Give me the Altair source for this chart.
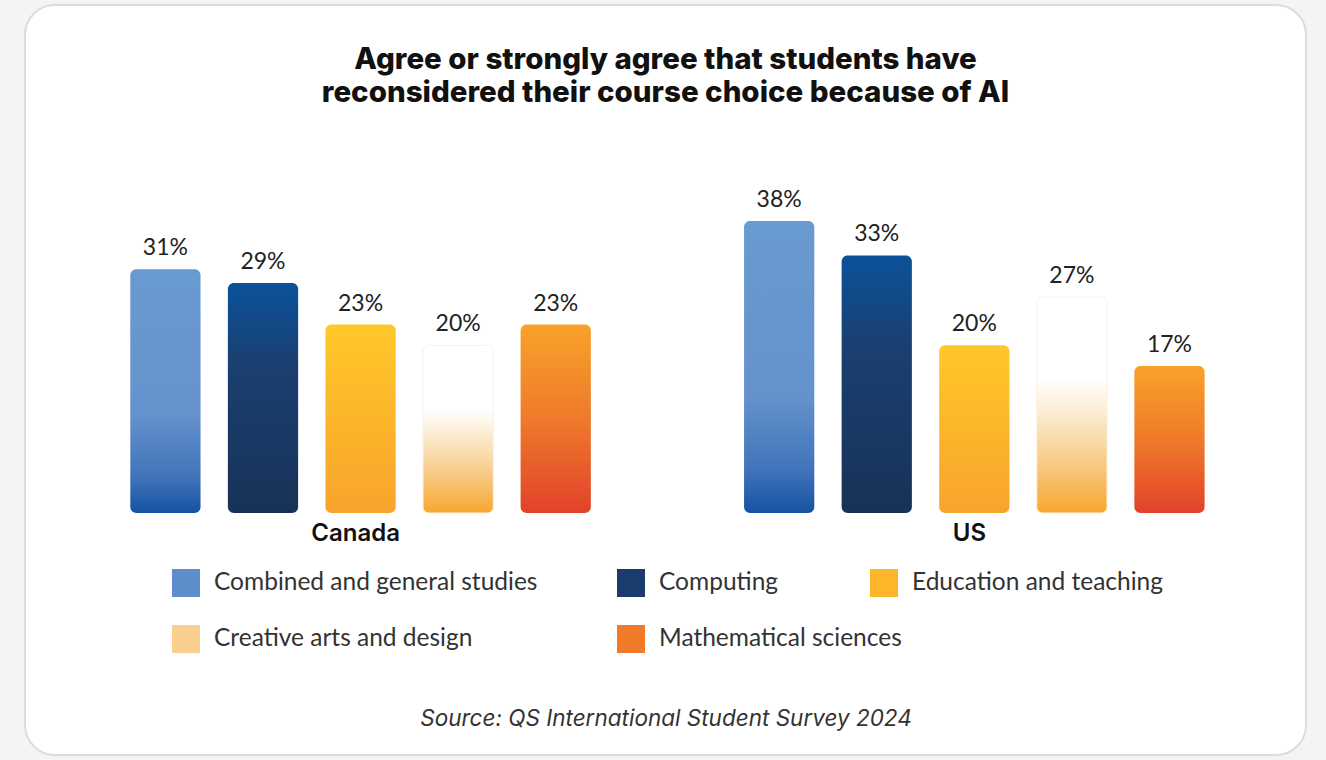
import altair as alt
import pandas as pd

# ---------------- data ----------------
CATEGORIES = [
    "Combined and general studies",
    "Computing",
    "Education and teaching",
    "Creative arts and design",
    "Mathematical sciences",
]
COUNTRIES = ["Canada", "US"]
CANADA_VALUES = [31, 29, 23, 20, 23]
US_VALUES = [38, 33, 20, 27, 17]

TITLE_LINES = [
    "Agree or strongly agree that students have",
    "reconsidered their course choice because of AI",
]
SOURCE = "Source: QS International Student Survey 2024"

# ---------------- styles ----------------
LEGEND_COLORS = ["#5d8dca", "#1a3d6d", "#fdb62a", "#f8cf8c", "#ef7a2a"]
GRADIENT_STOPS = [
    [(0.0, "#6a9ad2"), (0.6, "#6592cc"), (0.85, "#4274ba"), (1.0, "#1553a1")],
    [(0.0, "#0a529a"), (0.35, "#1b3f70"), (1.0, "#173257")],
    [(0.0, "#ffc829"), (1.0, "#f8a42c")],
    [(0.0, "#ffffff"), (0.38, "#ffffff"), (0.55, "#fbeacc"), (0.8, "#f7c67a"), (1.0, "#f9a62d")],
    [(0.0, "#f9a22a"), (0.5, "#ee7a2a"), (1.0, "#e2422a")],
]
BODY_FONT = "Lato"
HEAD_FONT = "Inter"
TEXT_DARK = "#222222"

# ---------------- layout ----------------
GROUP_STEP = 6.29      # distance between the two country groups, in bar slots
GROUP_LABEL_POS = 1.95 # group label position within a group, in bar slots
BAR_HALF = 0.36        # half bar width, in bar slots
BASE = -4.24           # baseline of the bars on the value scale
X_DOMAIN = [-1.439, 11.689]
Y_DOMAIN = [-39.24, 69.22]

rows = []
for gi, (country, vals) in enumerate(zip(COUNTRIES, [CANADA_VALUES, US_VALUES])):
    for ci, (cat, v) in enumerate(zip(CATEGORIES, vals)):
        rows.append(dict(country=country, category=cat, value=v, gi=gi, ci=ci))
df = pd.DataFrame(rows)
groups = pd.DataFrame({"country": COUNTRIES, "gi": list(range(len(COUNTRIES)))})

xscale = alt.Scale(domain=X_DOMAIN, nice=False, zero=False)
yscale = alt.Scale(domain=Y_DOMAIN, nice=False, zero=False)
x_axis = alt.Axis(
    title=SOURCE, labels=False, ticks=False, domain=False, grid=False,
    offset=-48, titlePadding=0, titleFont=HEAD_FONT, titleFontSize=22.5,
    titleFontStyle="italic", titleFontWeight="normal", titleColor="#333333",
)

base = alt.Chart(df).transform_calculate(
    pos=f"datum.gi * {GROUP_STEP} + datum.ci",
    base=f"{BASE}",
    label="datum.value + '%'",
).transform_calculate(
    xl=f"datum.pos - {BAR_HALF}",
    xr=f"datum.pos + {BAR_HALF}",
)

X_BAR = alt.X("xl:Q", scale=xscale, axis=x_axis)
X2_BAR = alt.X2("xr:Q")
Y_BASE = alt.Y("base:Q", scale=yscale, axis=None)

legend_common = dict(
    title=None, orient="none", direction="horizontal", gridAlign="each",
    symbolType="square", symbolSize=784, symbolStrokeWidth=0,
    labelFont=BODY_FONT, labelFontSize=24.5, labelColor="#333333",
    labelOffset=14, labelLimit=600, columnPadding=79, rowPadding=28,
    padding=0,
)

# main legend: two columns (first, second and fourth, fifth categories)
legend_main = base.mark_bar().encode(
    x=X_BAR, x2=X2_BAR, y=Y_BASE, y2="base:Q",
    color=alt.Color(
        "category:N",
        scale=alt.Scale(domain=CATEGORIES, range=LEGEND_COLORS),
        legend=alt.Legend(
            values=[CATEGORIES[0], CATEGORIES[1], CATEGORIES[3], CATEGORIES[4]],
            legendX=147, legendY=564, columns=2, **legend_common,
        ),
    ),
)

# third column of the legend
legend_third = base.transform_filter(alt.datum.category == CATEGORIES[2]).mark_bar().encode(
    x=X_BAR, x2=X2_BAR, y=Y_BASE, y2="base:Q",
    fill=alt.Fill(
        "category:N",
        scale=alt.Scale(domain=[CATEGORIES[2]], range=[LEGEND_COLORS[2]]),
        legend=alt.Legend(legendX=845, legendY=564, columns=1, **legend_common),
    ),
)

bar_layers = []
for cat, stops in zip(CATEGORIES, GRADIENT_STOPS):
    grad = alt.LinearGradient(
        gradient="linear",
        stops=[alt.GradientStop(color=c, offset=o) for o, c in stops],
        x1=0, x2=0, y1=0, y2=1,
    )
    extra = {}
    if stops[0][1] == "#ffffff":
        extra = dict(stroke="#fbf1e0", strokeWidth=1)
    bar_layers.append(
        base.transform_filter(alt.datum.category == cat)
        .mark_bar(color=grad, cornerRadius=6, **extra)
        .encode(
            x=X_BAR, x2=X2_BAR,
            y=alt.Y("value:Q", scale=yscale, axis=None),
            y2="base:Q",
        )
    )

value_labels = base.mark_text(
    font=BODY_FONT, fontSize=23, color=TEXT_DARK, baseline="alphabetic", dy=-14
).encode(
    x=alt.X("pos:Q", scale=xscale, axis=x_axis),
    y=alt.Y("value:Q", scale=yscale, axis=None),
    text="label:N",
)

group_labels = alt.Chart(groups).transform_calculate(
    pos=f"datum.gi * {GROUP_STEP} + {GROUP_LABEL_POS}",
    base=f"{BASE}",
).mark_text(
    font=HEAD_FONT, fontSize=24, fontWeight=600, color="#111111",
    baseline="middle", dy=21,
).encode(
    x=alt.X("pos:Q", scale=xscale, axis=x_axis),
    y=Y_BASE,
    text="country:N",
)

chart = alt.layer(
    legend_main, legend_third, *bar_layers, value_labels, group_labels
).properties(
    width=1281,
    height=750,
    padding={"left": 25, "top": 5, "right": 20, "bottom": 5},
    autosize=alt.AutoSizeParams(type="none"),
    background="#f4f4f4",
    title=alt.Title(
        TITLE_LINES, font=HEAD_FONT, fontSize=29.5, fontWeight=800, color="#111111",
        anchor="middle", offset=-103, lineHeight=33,
    ),
).configure_view(
    fill="white", stroke="#dcdcdc", strokeWidth=2, cornerRadius=30
)

chart.save("out.html", embed_options={"renderer": "svg", "actions": False})
